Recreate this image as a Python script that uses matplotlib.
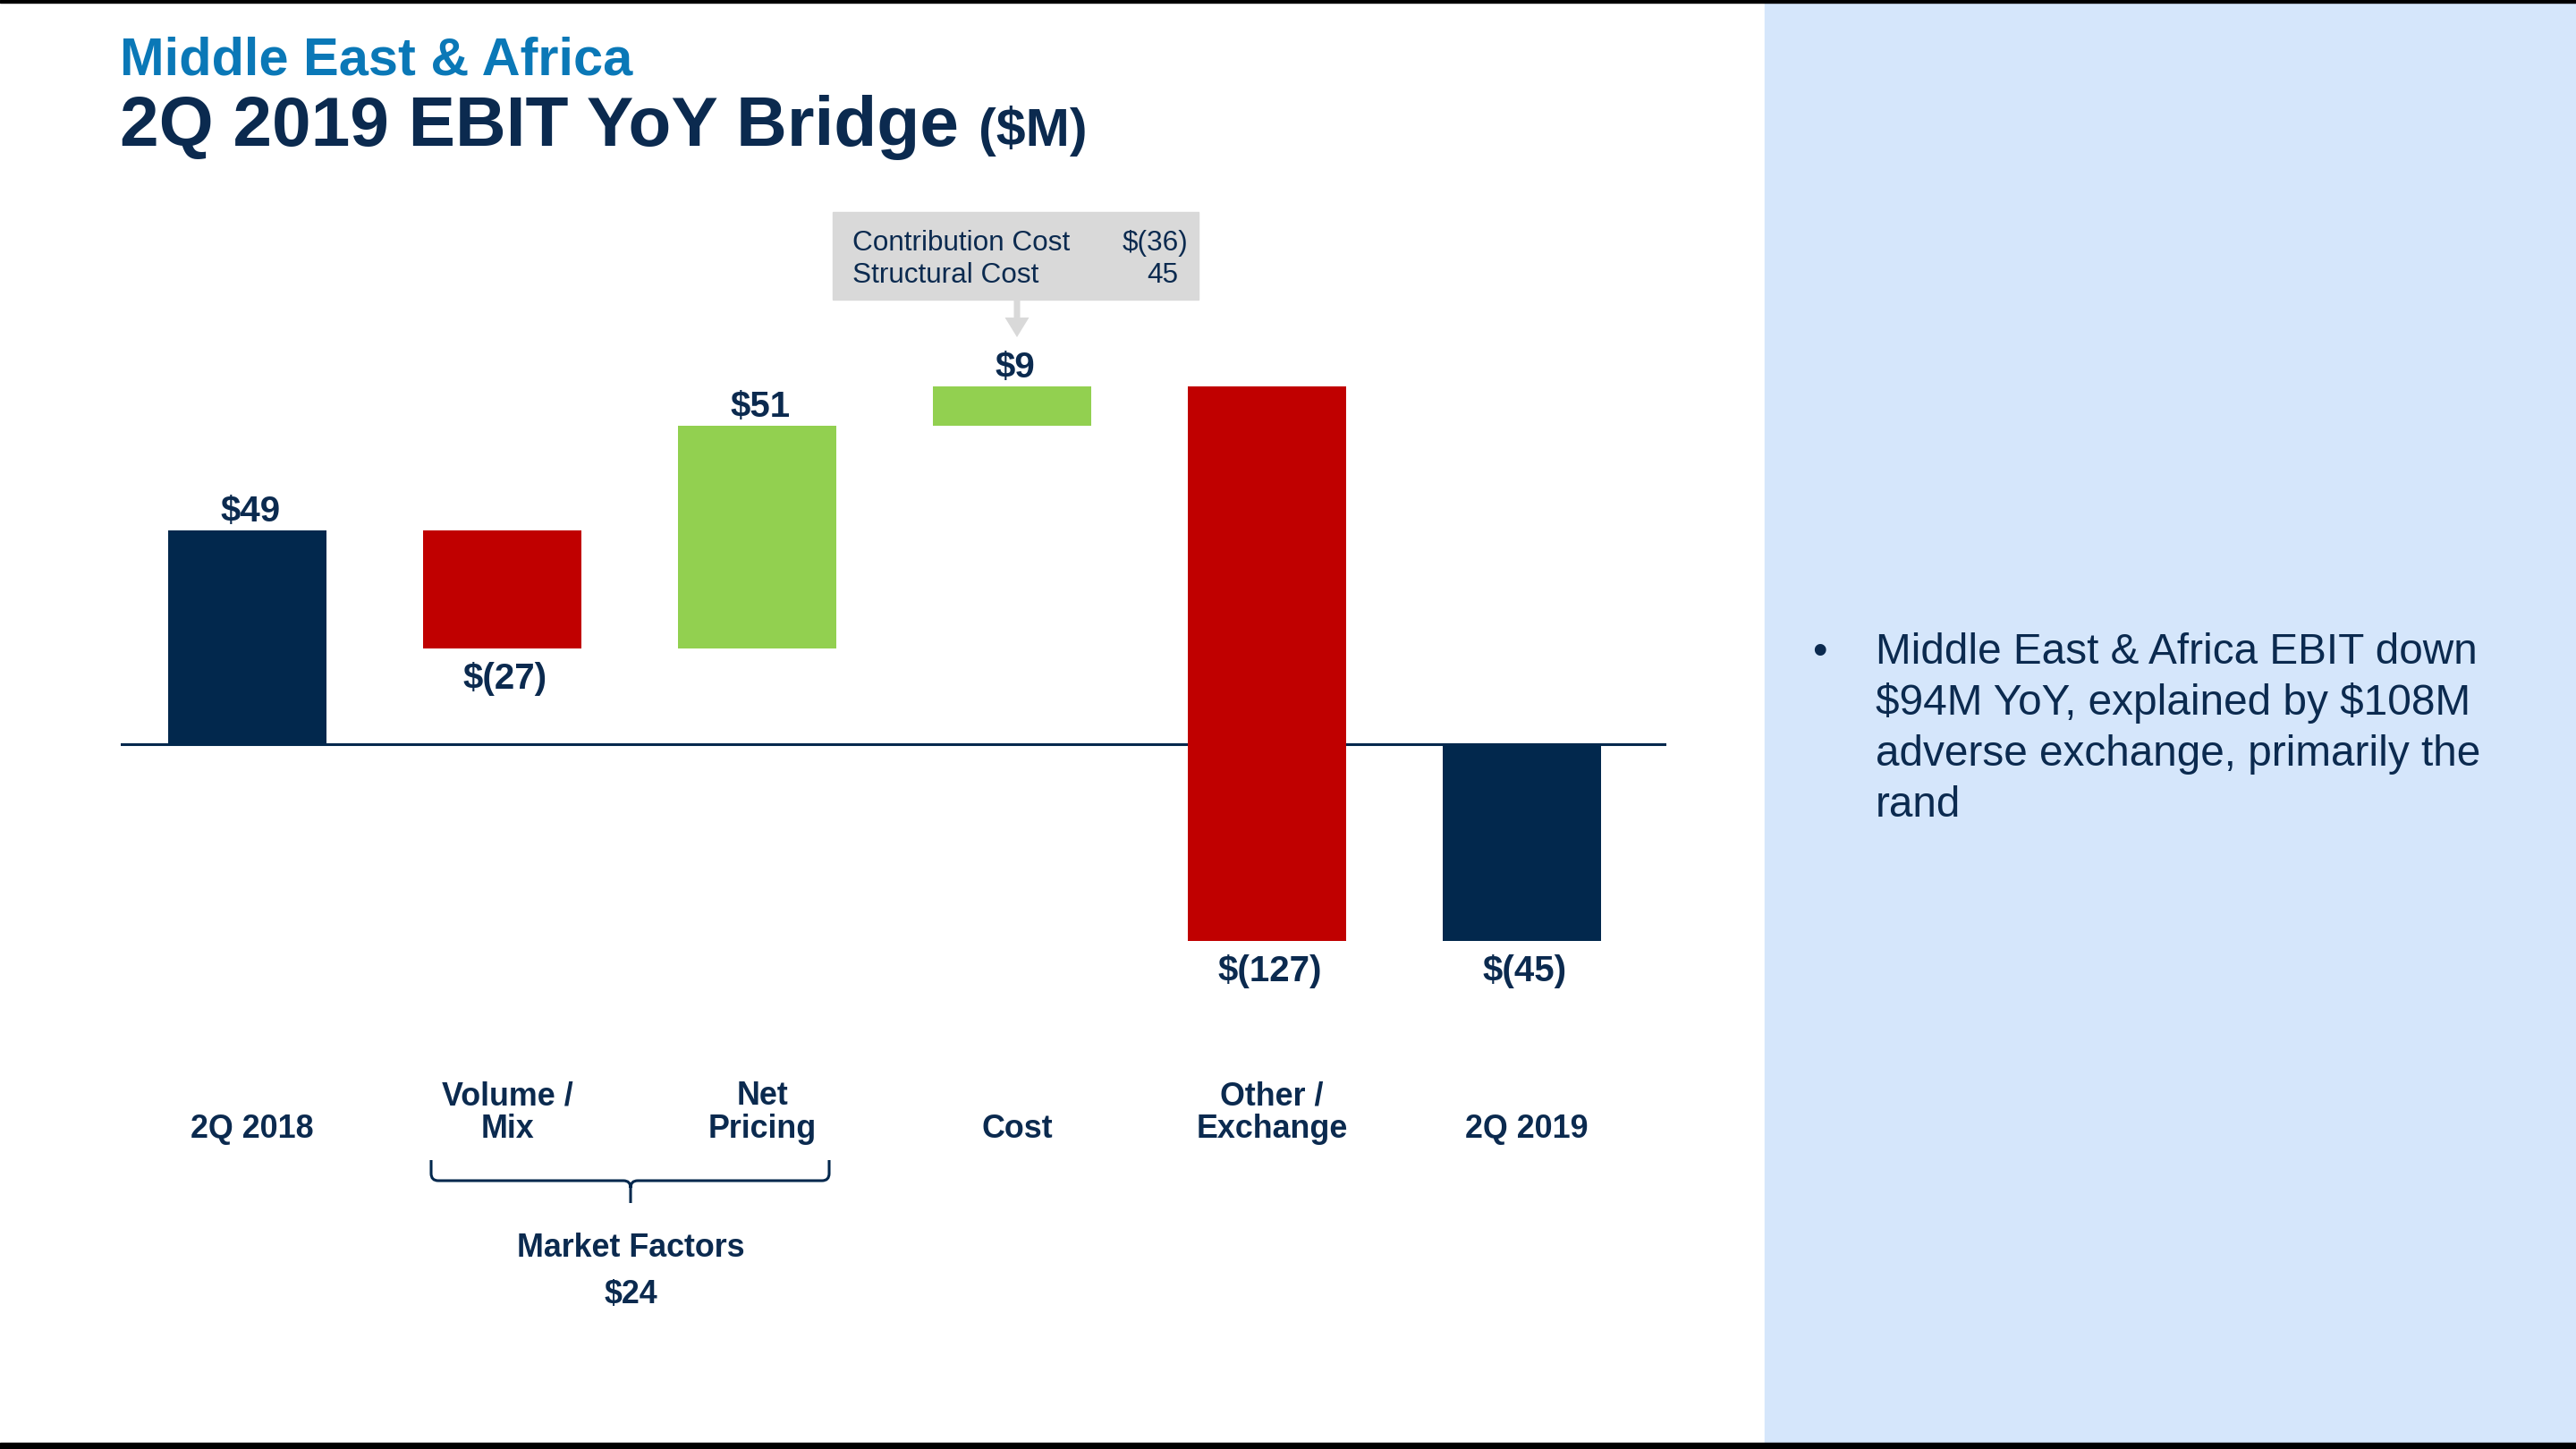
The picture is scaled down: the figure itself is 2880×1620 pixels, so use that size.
import matplotlib
matplotlib.use("Agg")
import matplotlib.pyplot as plt
from matplotlib.patches import Rectangle, FancyArrow, PathPatch
from matplotlib.path import Path
from matplotlib.transforms import Affine2D, blended_transform_factory

plt.rcParams['font.family'] = ['Liberation Sans', 'DejaVu Sans']
plt.rcParams['text.parse_math'] = False

# ---- data ----
categories = ["2Q 2018", "Volume /\nMix", "Net\nPricing", "Cost", "Other /\nExchange", "2Q 2019"]
values = [49, -27, 51, 9, -127, -45]
is_total = [True, False, False, False, False, True]

cost_items = ["Contribution Cost", "Structural Cost"]
cost_values = ["$(36)", "45"]

group_name = "Market Factors"
group_members = [1, 2]

bullet_lines = ["Middle East & Africa EBIT down",
                "$94M YoY, explained by $108M",
                "adverse exchange, primarily the",
                "rand"]

# ---- style ----
NAVY = "#02284D"
TEXT = "#0B2A4F"
RED = "#C00000"
GREEN = "#92D050"
BLUE = "#0A78B7"
PANEL = "#D5E6FB"
GREY = "#D9D9D9"

W, H = 2880, 1620


def money(v):
    return f"${v}" if v >= 0 else f"$({-v})"


fig = plt.figure(figsize=(W / 100, H / 100), dpi=100)
fig.patch.set_facecolor("white")
px = Affine2D().scale(1 / W, -1 / H).translate(0, 1) + fig.transFigure

# background pieces
fig.patches.append(Rectangle((1973, 3), W - 1973, 1610, transform=px, color=PANEL, zorder=0))
fig.patches.append(Rectangle((0, 0), W, 3, transform=px, color="black", zorder=1))
fig.patches.append(Rectangle((0, 1613), W, 7, transform=px, color="black", zorder=1))

# axes laid out so that zero sits at y=832px, 4.878 px per $M
zero_px, ppu = 832, 4.878
ax_top, ax_bot, ax_left, ax_right = 150, 1600, 135, 1863
ax = fig.add_axes([ax_left / W, 1 - ax_bot / H, (ax_right - ax_left) / W, (ax_bot - ax_top) / H])
ax.set_xlim(-(276.5 - ax_left) / 285, (ax_right - 276.5) / 285)
ax.set_ylim(-(ax_bot - zero_px) / ppu, (zero_px - ax_top) / ppu)
ax.axis("off")
ax.patch.set_alpha(0)

# waterfall
running = 0
bottoms, colors = [], []
for v, tot in zip(values, is_total):
    if tot:
        bottoms.append(0)
        colors.append(NAVY)
        running = v
    else:
        bottoms.append(running)
        colors.append(GREEN if v > 0 else RED)
        running += v

xs = list(range(len(values)))
ax.bar(xs, values, bottom=bottoms, width=0.621, color=colors, zorder=3)
ax.axhline(0, color=NAVY, lw=2.2, zorder=2)

for x, v, b in zip(xs, values, bottoms):
    if v >= 0:
        ax.annotate(money(v), (x + 0.012, b + v), xytext=(0, 7.2), textcoords="offset points",
                    ha="center", va="baseline", fontsize=29, fontweight="bold", color=TEXT)
    else:
        ax.annotate(money(v), (x + 0.012, b + v), xytext=(0, -32.5), textcoords="offset points",
                    ha="center", va="baseline", fontsize=29, fontweight="bold", color=TEXT)

# category labels (x in data, y in pixels)
cat_tr = blended_transform_factory(ax.transData, px)
for x, lab in zip(xs, categories):
    lines = lab.split("\n")
    for k, line in enumerate(reversed(lines)):
        ax.text(x + 0.02, 1272 - 37 * k, line, transform=cat_tr, ha="center", va="baseline",
                fontsize=25.8, fontweight="bold", color=TEXT)

# market factors brace
l_px, r_px, c_px = 482, 927, 705
verts = [(l_px, 1297), (l_px, 1312), (l_px, 1320), (l_px + 8, 1320), (c_px - 8, 1320),
         (c_px, 1320), (c_px, 1328), (c_px, 1345),
         (r_px, 1297), (r_px, 1312), (r_px, 1320), (r_px - 8, 1320), (c_px + 8, 1320),
         (c_px, 1320), (c_px, 1328)]
codes = [Path.MOVETO, Path.LINETO, Path.CURVE3, Path.CURVE3, Path.LINETO,
         Path.CURVE3, Path.CURVE3, Path.LINETO,
         Path.MOVETO, Path.LINETO, Path.CURVE3, Path.CURVE3, Path.LINETO,
         Path.CURVE3, Path.CURVE3]
fig.patches.append(PathPatch(Path(verts, codes), transform=px, fill=False, edgecolor=NAVY, lw=2.2))
group_total = sum(values[i] for i in group_members)
fig.text(c_px / W, 1 - 1405 / H, group_name, ha="center", va="baseline",
         fontsize=25.8, fontweight="bold", color=TEXT)
fig.text(c_px / W, 1 - 1457 / H, money(group_total), ha="center", va="baseline",
         fontsize=25.8, fontweight="bold", color=TEXT)

# cost callout
fig.patches.append(Rectangle((931, 237), 409, 98, transform=px, color=GREY, zorder=1))
fig.patches.append(FancyArrow(1137, 335, 0, 42, width=7, head_width=27, head_length=22,
                              length_includes_head=True, transform=px, color=GREY, lw=0))
for k, (name, val) in enumerate(zip(cost_items, cost_values)):
    yb = 280 + 36 * k
    fig.text(953 / W, 1 - yb / H, name, ha="left", va="baseline", fontsize=22.7, color=TEXT, zorder=3)
    xr = 1328 if val.endswith(")") else 1317
    fig.text(xr / W, 1 - yb / H, val, ha="right", va="baseline", fontsize=22.7, color=TEXT, zorder=3)

# titles
fig.text(134 / W, 1 - 84 / H, "Middle East & Africa", ha="left", va="baseline",
         fontsize=42.8, fontweight="bold", color=BLUE)
t = fig.text(134 / W, 1 - 163 / H, "2Q 2019 EBIT YoY Bridge", ha="left", va="baseline",
             fontsize=56.5, fontweight="bold", color=TEXT)
bb = t.get_window_extent(fig.canvas.get_renderer())
fig.text((bb.x1 + 22) / W, 1 - 163 / H, "($M)", ha="left", va="baseline",
         fontsize=42.5, fontweight="bold", color=TEXT)

# commentary panel
fig.text(2034 / W, 1 - 742 / H, "\u2022", ha="center", va="baseline", fontsize=34, color=TEXT)
for k, line in enumerate(bullet_lines):
    fig.text(2097 / W, 1 - (742 + 57 * k) / H, line, ha="left", va="baseline",
             fontsize=34.4, color=TEXT)

fig.savefig("out.png", dpi=100)
